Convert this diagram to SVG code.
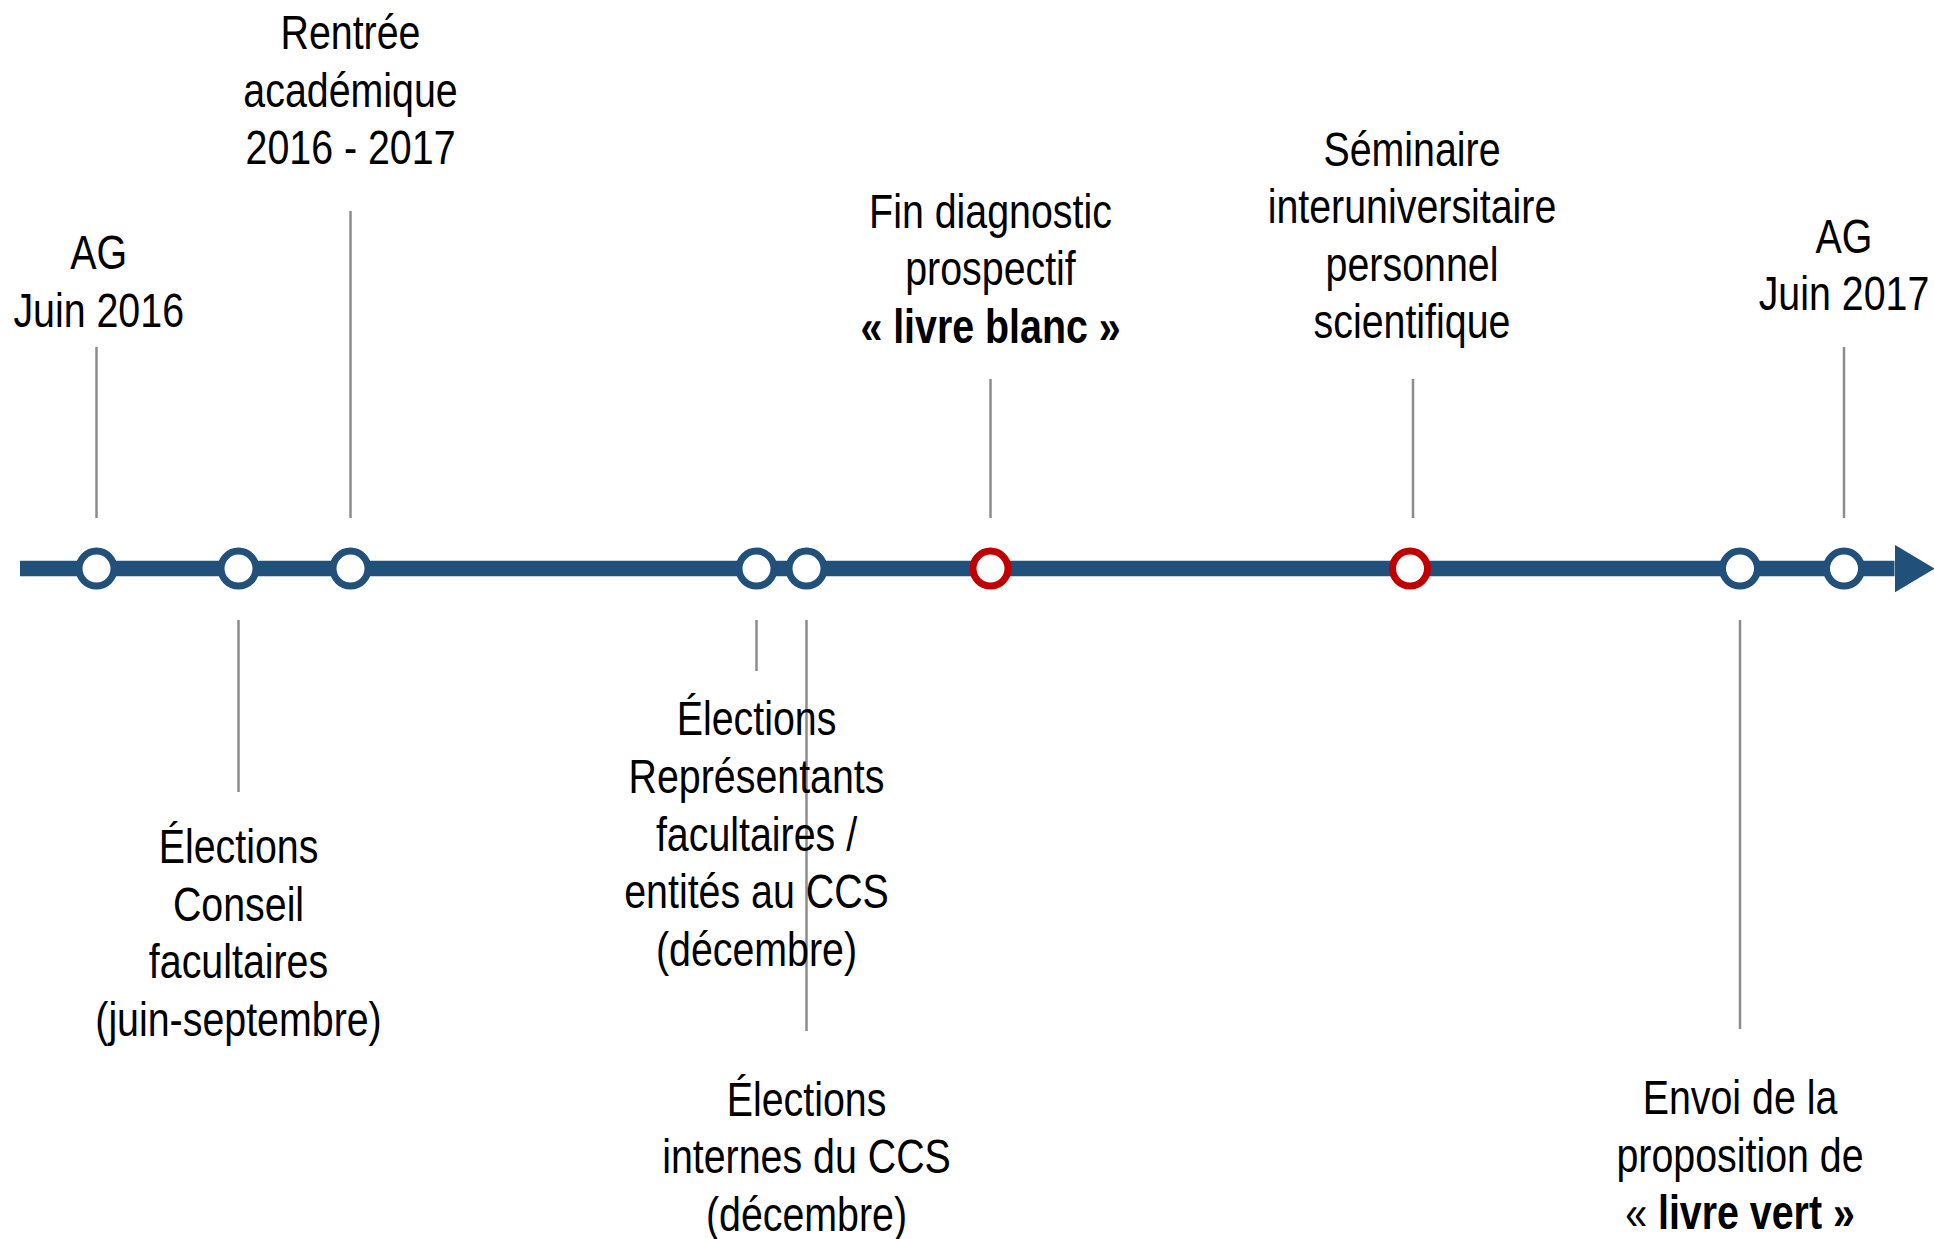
<svg xmlns="http://www.w3.org/2000/svg" width="1934" height="1239" viewBox="0 0 1934 1239">
<defs>
<style>
.lbl{font-family:"Liberation Sans",Arial,sans-serif;font-size:48px;fill:#000;text-anchor:middle}
.b{font-weight:bold}
.conn{stroke:#8C8C8C;stroke-width:2.5;fill:none}
.axis{stroke:#21507A;stroke-width:15.5;fill:none}
.dot{fill:#fff;stroke:#21507A;stroke-width:7}
.dot.red{stroke:#C00000}
</style>
<marker id="arrow" markerUnits="userSpaceOnUse" markerWidth="40" markerHeight="48" refX="0" refY="24" orient="auto" viewBox="0 0 40 48">
<polygon points="0,0 40,24 0,48" fill="#21507A"/>
</marker>
</defs>
<rect width="1934" height="1239" fill="#fff"/>
<g id="connectors">
<line class="axis" x1="20" y1="568.6" x2="1894.5" y2="568.6" marker-end="url(#arrow)"/>
<line class="conn" x1="96.5" y1="347" x2="96.5" y2="518"/>
<line class="conn" x1="350.5" y1="211" x2="350.5" y2="518"/>
<line class="conn" x1="238.5" y1="620" x2="238.5" y2="792"/>
<line class="conn" x1="756.5" y1="620" x2="756.5" y2="671"/>
<line class="conn" x1="806.5" y1="620" x2="806.5" y2="1031"/>
<line class="conn" x1="990.5" y1="379" x2="990.5" y2="518"/>
<line class="conn" x1="1413" y1="379" x2="1413" y2="518"/>
<line class="conn" x1="1844" y1="347" x2="1844" y2="518"/>
<line class="conn" x1="1740" y1="620" x2="1740" y2="1029"/>
</g>
<g id="n-ag2016">
<circle class="dot" cx="96.5" cy="568.6" r="17.5"/>
<text class="lbl" transform="translate(98.7,0) scale(0.82,1)"><tspan x="0" y="269">AG</tspan><tspan x="0" y="327">Juin 2016</tspan></text>
</g>
<g id="n-conseil">
<circle class="dot" cx="238.5" cy="568.6" r="17.5"/>
<text class="lbl" transform="translate(238.5,0) scale(0.82,1)"><tspan x="0" y="863">Élections</tspan><tspan x="0" y="921">Conseil</tspan><tspan x="0" y="978">facultaires</tspan><tspan x="0" y="1036">(juin-septembre)</tspan></text>
</g>
<g id="n-rentree">
<circle class="dot" cx="350.5" cy="568.6" r="17.5"/>
<text class="lbl" transform="translate(350.5,0) scale(0.82,1)"><tspan x="0" y="49">Rentrée</tspan><tspan x="0" y="107">académique</tspan><tspan x="0" y="164">2016 - 2017</tspan></text>
</g>
<g id="n-representants">
<circle class="dot" cx="756.5" cy="568.6" r="17.5"/>
<text class="lbl" transform="translate(756.5,0) scale(0.82,1)"><tspan x="0" y="735">Élections</tspan><tspan x="0" y="793">Représentants</tspan><tspan x="0" y="851">facultaires /</tspan><tspan x="0" y="908">entités au CCS</tspan><tspan x="0" y="966">(décembre)</tspan></text>
</g>
<g id="n-internes">
<circle class="dot" cx="806.5" cy="568.6" r="17.5"/>
<text class="lbl" transform="translate(806.5,0) scale(0.82,1)"><tspan x="0" y="1116">Élections</tspan><tspan x="0" y="1173">internes du CCS</tspan><tspan x="0" y="1231">(décembre)</tspan></text>
</g>
<g id="n-livreblanc">
<circle class="dot red" cx="990.5" cy="568.6" r="17.5"/>
<text class="lbl" transform="translate(990.5,0) scale(0.82,1)"><tspan x="0" y="228">Fin diagnostic</tspan><tspan x="0" y="285">prospectif</tspan><tspan x="0" y="343" class="b">« livre blanc »</tspan></text>
</g>
<g id="n-seminaire">
<circle class="dot red" cx="1410" cy="568.6" r="17.5"/>
<text class="lbl" transform="translate(1412,0) scale(0.82,1)"><tspan x="0" y="166">Séminaire</tspan><tspan x="0" y="223">interuniversitaire</tspan><tspan x="0" y="281">personnel</tspan><tspan x="0" y="338">scientifique</tspan></text>
</g>
<g id="n-envoi">
<circle class="dot" cx="1740" cy="568.6" r="17.5"/>
<text class="lbl" transform="translate(1740,0) scale(0.82,1)"><tspan x="0" y="1114">Envoi de la</tspan><tspan x="0" y="1172">proposition de</tspan><tspan x="0" y="1229">« <tspan class="b">livre vert »</tspan></tspan></text>
</g>
<g id="n-ag2017">
<circle class="dot" cx="1844" cy="568.6" r="17.5"/>
<text class="lbl" transform="translate(1844,0) scale(0.82,1)"><tspan x="0" y="253">AG</tspan><tspan x="0" y="310">Juin 2017</tspan></text>
</g>
</svg>
